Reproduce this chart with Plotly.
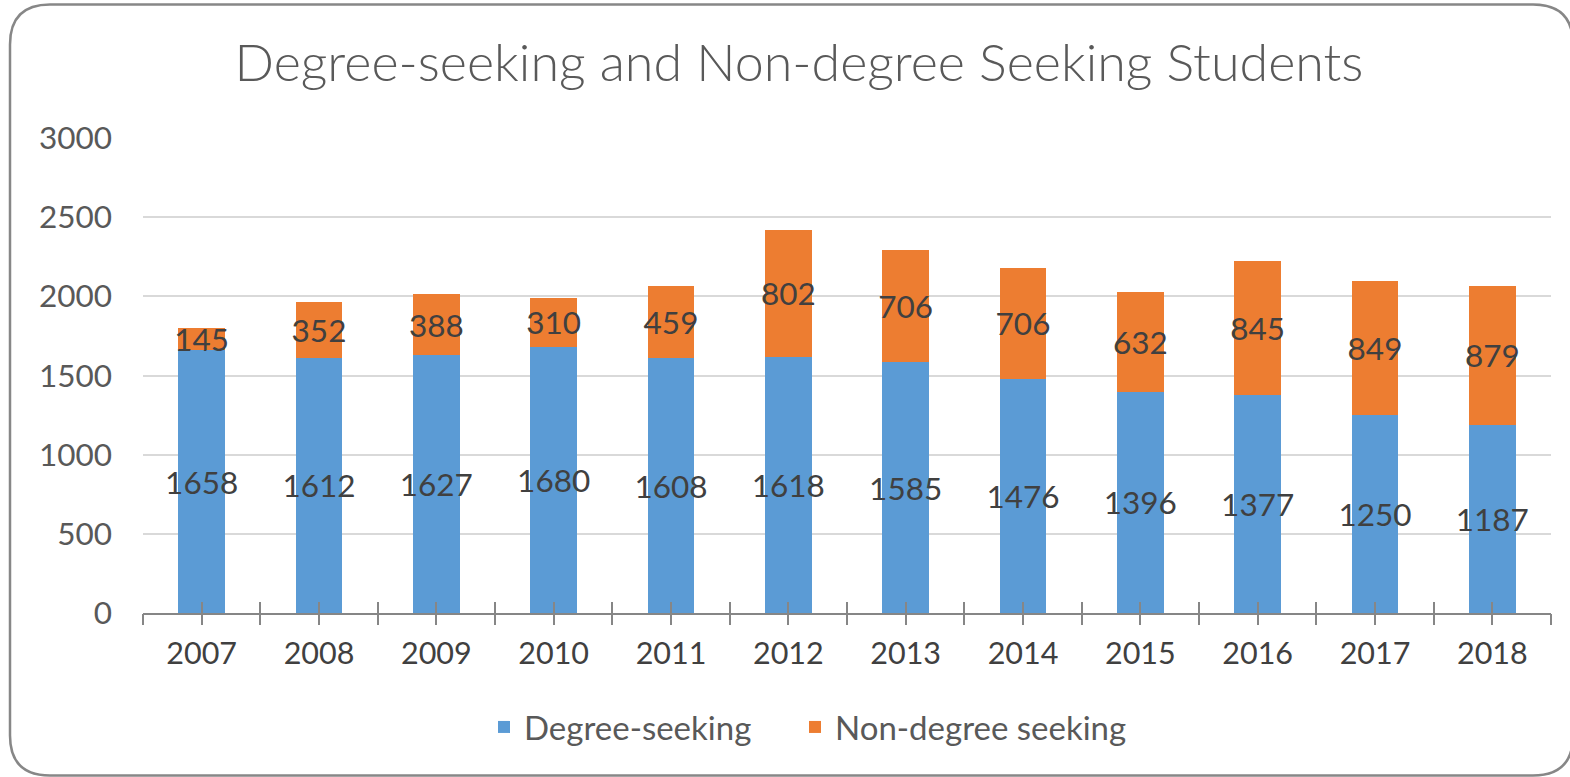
import plotly.graph_objects as go

# ---- data ----
years = ["2007", "2008", "2009", "2010", "2011", "2012",
         "2013", "2014", "2015", "2016", "2017", "2018"]
degree_seeking = [1658, 1612, 1627, 1680, 1608, 1618, 1585, 1476, 1396, 1377, 1250, 1187]
non_degree_seeking = [145, 352, 388, 310, 459, 802, 706, 706, 632, 845, 849, 879]
y_ticks = [0, 500, 1000, 1500, 2000, 2500, 3000]

TITLE = "Degree-seeking and Non-degree Seeking Students"
FONT = "Lato, 'Open Sans', 'DejaVu Sans', sans-serif"

W, H = 1570, 777
ML, MR, MT, MB = 143, 19, 138, 164
PW, PH = W - ML - MR, H - MT - MB

fig = go.Figure()

label_font = dict(family=FONT, size=31.5, color="#404040")
for name, vals, color, lg in [("Degree-seeking", degree_seeking, "#5B9BD5", "legend"),
                              ("Non-degree seeking", non_degree_seeking, "#ED7D31", "legend2")]:
    fig.add_trace(go.Bar(
        x=years, y=vals, name=name, marker=dict(color=color, line=dict(width=0)),
        text=[str(v) for v in vals], textposition="inside", insidetextanchor="middle",
        constraintext="none", textangle=0, legend=lg,
        textfont=label_font, insidetextfont=label_font, hoverinfo="skip",
    ))

# empty helper traces so the tick-mark overlay axes are drawn
for ax in ("x2", "x3"):
    fig.add_trace(go.Scatter(x=[], y=[], xaxis=ax, yaxis="y", showlegend=False, hoverinfo="skip"))

n = len(years)
tick_pos = [i * 0.5 - 0.5 for i in range(2 * n + 1)]
tick_common = dict(type="linear", range=[-0.5, n - 0.5], overlaying="x", anchor="y", side="bottom",
                   tickmode="array", tickvals=tick_pos, showticklabels=False, showgrid=False,
                   zeroline=False, showline=False, ticklen=11, tickwidth=2, tickcolor="#868686",
                   fixedrange=True)


def px2paper(px, py):
    return (px - ML) / PW, (MT + PH - py) / PH


# rounded chart border
L, T, R, B, r = 10, 4.5, 1573, 775.5, 40
pts = [("M", [(L + r, T)]), ("L", [(R - r, T)]), ("Q", [(R, T), (R, T + r)]),
       ("L", [(R, B - r)]), ("Q", [(R, B), (R - r, B)]), ("L", [(L + r, B)]),
       ("Q", [(L, B), (L, B - r)]), ("L", [(L, T + r)]), ("Q", [(L, T), (L + r, T)])]
path = ""
for cmd, ps in pts:
    path += cmd + " ".join("%.5f,%.5f" % px2paper(*p) for p in ps) + " "
path += "Z"

legend_common = dict(orientation="h", xref="container", xanchor="left",
                     yref="container", y=1 - 727 / H, yanchor="middle",
                     font=dict(family=FONT, size=33, color="#595959"),
                     bgcolor="rgba(0,0,0,0)", itemclick=False, itemdoubleclick=False)

fig.update_layout(
    width=W, height=H,
    margin=dict(l=ML, r=MR, t=MT, b=MB, autoexpand=False),
    paper_bgcolor="white", plot_bgcolor="white",
    barmode="stack", bargap=0.6,
    font=dict(family=FONT, color="#595959"),
    title=dict(text=TITLE, font=dict(family=FONT, size=52, color="#595959", weight=300),
               x=799 / W, xref="container", xanchor="center",
               y=1 - 63 / H, yref="container", yanchor="middle"),
    xaxis=dict(type="category", categoryorder="array", categoryarray=years,
               range=[-0.5, n - 0.5], showline=True, linecolor="#868686", linewidth=2,
               ticks="", showgrid=False, zeroline=False, ticklabelstandoff=12,
               tickfont=dict(family=FONT, size=30.5, color="#404040"), fixedrange=True),
    xaxis2=dict(ticks="outside", **tick_common),
    xaxis3=dict(ticks="inside", **tick_common),
    yaxis=dict(range=[0, 3000], tickmode="array", tickvals=y_ticks,
               showgrid=True, gridcolor="#D9D9D9", gridwidth=2,
               zeroline=False, showline=False, ticks="", ticklabelstandoff=30,
               tickfont=dict(family=FONT, size=31.5, color="#595959"), fixedrange=True),
    legend=dict(x=484 / W, **legend_common),
    legend2=dict(x=795 / W, **legend_common),
    shapes=[dict(type="path", xref="paper", yref="paper", path=path,
                 line=dict(color="#878787", width=2.5), fillcolor="rgba(0,0,0,0)", layer="above")],
    showlegend=True,
)

fig.write_html("out.html", config={"displayModeBar": False},
               post_script="document.body.style.margin='0';document.body.style.overflow='hidden';")
